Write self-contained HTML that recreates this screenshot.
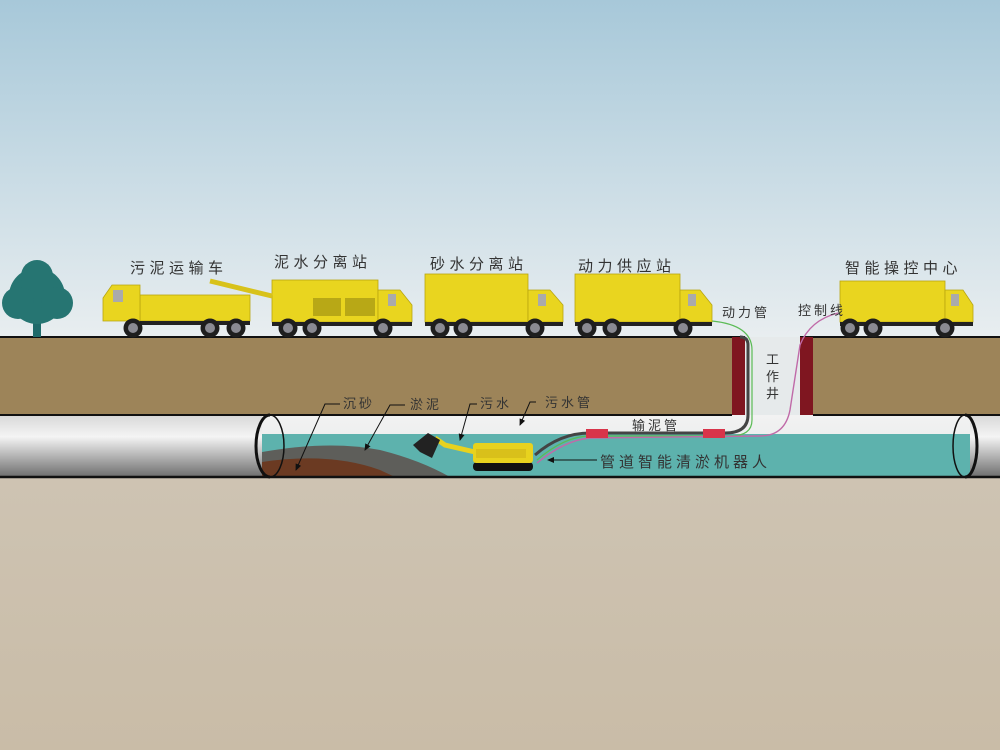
<!DOCTYPE html>
<html><head><meta charset="utf-8"><style>
html,body{margin:0;padding:0;width:1000px;height:750px;overflow:hidden}
text{font-family:"Liberation Sans","Noto Sans CJK SC",sans-serif;fill:#333}
</style></head><body>
<svg width="1000" height="750" viewBox="0 0 1000 750" xmlns="http://www.w3.org/2000/svg">
<defs>
<linearGradient id="sky" x1="0" y1="0" x2="0" y2="1"><stop offset="0" stop-color="#a7c8d9"/><stop offset="1" stop-color="#e9eef0"/></linearGradient>
<linearGradient id="soil" x1="0" y1="0" x2="0" y2="1"><stop offset="0" stop-color="#d0c7b8"/><stop offset="1" stop-color="#c9bca7"/></linearGradient>
<linearGradient id="pipeg" x1="0" y1="0" x2="0" y2="1"><stop offset="0" stop-color="#d8d8d8"/><stop offset="0.35" stop-color="#f4f4f4"/><stop offset="1" stop-color="#6e6e6e"/></linearGradient>
<linearGradient id="inner" x1="0" y1="0" x2="0" y2="1"><stop offset="0" stop-color="#f2f2f2"/><stop offset="1" stop-color="#e4e8e8"/></linearGradient>
<marker id="ar" markerWidth="8" markerHeight="8" refX="6" refY="4" orient="auto" markerUnits="userSpaceOnUse"><path d="M0 1 L7 4 L0 7Z" fill="#111"/></marker>
<g id="wheel"><circle r="9.5" fill="#1e1e1e"/><circle r="5" fill="#8a8a92"/></g>
</defs>
<rect width="1000" height="340" fill="url(#sky)"/>
<rect y="340" width="1000" height="410" fill="url(#soil)"/>
<rect x="0" y="337" width="745" height="78" fill="#9d8459"/>
<rect x="800" y="337" width="200" height="78" fill="#9d8459"/>
<rect x="745" y="337" width="55" height="78" fill="#e6eaeb"/>
<line x1="0" y1="337" x2="745" y2="337" stroke="#111" stroke-width="2"/>
<line x1="800" y1="337" x2="1000" y2="337" stroke="#111" stroke-width="2"/>
<rect x="732" y="337" width="13" height="78" fill="#7f1620"/>
<rect x="800" y="337" width="13" height="78" fill="#7f1620"/>
<rect x="0" y="415" width="270" height="62" fill="url(#pipeg)"/>
<rect x="965" y="415" width="35" height="62" fill="url(#pipeg)"/>
<rect x="262" y="415" width="708" height="62" fill="url(#inner)"/>
<rect x="262" y="434" width="708" height="43" fill="#5db2ad"/>
<path d="M262 452 Q330 440 380 450 Q420 460 450 477 L262 477Z" fill="#5e5e5a"/>
<path d="M262 462 Q330 452 380 470 L395 477 L262 477Z" fill="#6b3a22"/>
<ellipse cx="270" cy="446" rx="14" ry="31" fill="none" stroke="#111" stroke-width="1.5"/>
<path d="M270 415 A14 31 0 0 0 270 477" fill="none" stroke="#111" stroke-width="3"/>
<ellipse cx="965" cy="446" rx="12" ry="31" fill="none" stroke="#111" stroke-width="1.5"/>
<path d="M965 415 A12 31 0 0 1 965 477" fill="none" stroke="#111" stroke-width="3"/>
<line x1="0" y1="415" x2="732" y2="415" stroke="#111" stroke-width="2"/>
<line x1="813" y1="415" x2="1000" y2="415" stroke="#111" stroke-width="2"/>
<line x1="0" y1="477" x2="1000" y2="477" stroke="#111" stroke-width="2.5"/>
<path d="M535 455 Q560 433 590 433 L725 433 Q748 433 748 415 L748 345 Q748 337 740 337" fill="none" stroke="#444" stroke-width="3"/>
<path d="M712 321 Q752 325 752 350 L752 420 Q752 436 730 436 L590 436 Q565 436 537 460" fill="none" stroke="#5bbb55" stroke-width="1.2"/>
<path d="M838 313 Q810 320 800 345 L790 410 Q785 436 760 436 L590 438 Q565 440 537 463" fill="none" stroke="#c06aa8" stroke-width="1.4"/>
<rect x="586" y="429" width="22" height="9" fill="#d8344a"/>
<rect x="703" y="429" width="22" height="9" fill="#d8344a"/>
<rect x="473" y="462" width="60" height="9" rx="4" fill="#111"/>
<rect x="473" y="443" width="60" height="20" rx="3" fill="#e8d21e"/>
<rect x="476" y="449" width="50" height="9" fill="#d9c01a"/>
<path d="M475 452 L445 445 L435 438" stroke="#e8d21e" stroke-width="5" fill="none"/>
<path d="M413 445 L428 433 L440 440 L432 458 L420 452Z" fill="#222"/>
<g stroke="#111" stroke-width="1" fill="none" marker-end="url(#ar)">
<path d="M340 404 L325 404 L296 470"/><path d="M405 405 L390 405 L365 450"/>
<path d="M477 404 L470 404 L460 440"/><path d="M536 402 L530 402 L520 425"/>
<path d="M597 460 L548 460"/>
</g>
<rect x="33" y="305" width="8" height="32" fill="#1f6a6a"/>
<circle cx="37" cy="296" r="28" fill="#267572"/><circle cx="18" cy="303" r="16" fill="#267572"/><circle cx="57" cy="303" r="16" fill="#267572"/><circle cx="37" cy="276" r="16" fill="#267572"/>
<g fill="#e9d51f" stroke="#b8a510" stroke-width="0.8">
<rect x="140" y="295" width="110" height="26"/><path d="M103 321 L103 298 L112 285 L140 285 L140 321Z"/>
<rect x="272" y="280" width="106" height="42"/><path d="M378 322 L378 290 L400 290 L412 305 L412 322Z"/>
<rect x="425" y="274" width="103" height="48"/><path d="M528 322 L528 290 L550 290 L563 305 L563 322Z"/>
<rect x="575" y="274" width="105" height="48"/><path d="M680 322 L680 290 L700 290 L712 305 L712 322Z"/>
<rect x="840" y="281" width="105" height="41"/><path d="M945 322 L945 290 L963 290 L973 305 L973 322Z"/>
</g>
<path d="M210 281 L272 296" stroke="#d8c21a" stroke-width="5"/>
<g fill="#aaaaaa"><rect x="113" y="290" width="10" height="12"/><rect x="388" y="294" width="8" height="12"/><rect x="538" y="294" width="8" height="12"/><rect x="688" y="294" width="8" height="12"/><rect x="951" y="294" width="8" height="12"/></g>
<g fill="#b8a816"><rect x="313" y="298" width="28" height="18"/><rect x="345" y="298" width="30" height="18"/></g>
<g fill="#222"><rect x="140" y="321" width="110" height="4"/><rect x="272" y="322" width="140" height="4"/><rect x="425" y="322" width="138" height="4"/><rect x="575" y="322" width="137" height="4"/><rect x="840" y="322" width="133" height="4"/></g>
<use href="#wheel" x="133" y="328"/><use href="#wheel" x="210" y="328"/><use href="#wheel" x="236" y="328"/>
<use href="#wheel" x="288" y="328"/><use href="#wheel" x="312" y="328"/><use href="#wheel" x="383" y="328"/>
<use href="#wheel" x="440" y="328"/><use href="#wheel" x="463" y="328"/><use href="#wheel" x="535" y="328"/>
<use href="#wheel" x="587" y="328"/><use href="#wheel" x="612" y="328"/><use href="#wheel" x="683" y="328"/>
<use href="#wheel" x="850" y="328"/><use href="#wheel" x="873" y="328"/><use href="#wheel" x="945" y="328"/>
<g font-size="15" letter-spacing="4.5">
<text x="130" y="273">污泥运输车</text>
<text x="274" y="267">泥水分离站</text>
<text x="430" y="269">砂水分离站</text>
<text x="578" y="271">动力供应站</text>
<text x="845" y="273">智能操控中心</text>
</g>
<g font-size="13" letter-spacing="3">
<text x="722" y="317">动力管</text>
<text x="798" y="315">控制线</text>
<text x="766" y="364">工</text><text x="766" y="381">作</text><text x="766" y="398">井</text>
<text x="343" y="408">沉砂</text><text x="410" y="409">淤泥</text>
<text x="480" y="408">污水</text><text x="545" y="407">污水管</text>
<text x="632" y="430">输泥管</text>
</g>
<text x="600" y="467" font-size="15" letter-spacing="4">管道智能清淤机器人</text>
</svg>
</body></html>
